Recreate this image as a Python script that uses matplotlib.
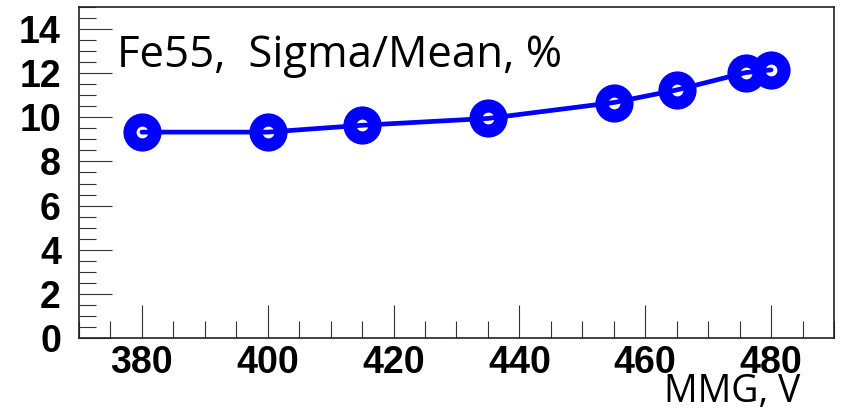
import matplotlib.pyplot as plt
from matplotlib.ticker import MultipleLocator

# MMG voltage (V) and energy resolution for Fe55 (Sigma/Mean, %)
mmg_v = [380, 400, 415, 435, 455, 465, 476, 480]
sigma_mean = [9.33, 9.33, 9.64, 9.95, 10.67, 11.24, 12.03, 12.15]

x_ticks = [380, 400, 420, 440, 460, 480]
y_ticks = [0, 2, 4, 6, 8, 10, 12, 14]

fig = plt.figure(figsize=(8.42, 4.11), dpi=100)
ax = fig.add_axes([0.0938, 0.1776, 0.8967, 0.8054])

blue = '#0000ff'

# ROOT-like markers: big blue disc with a small white hole
ax.plot(mmg_v, sigma_mean, linestyle='none', marker='o',
        markersize=27.5, markerfacecolor=blue, markeredgewidth=0, zorder=3)
ax.plot(mmg_v, sigma_mean, linestyle='none', marker='o',
        markersize=8.5, markerfacecolor='white', markeredgewidth=0, zorder=3.5)
ax.plot(mmg_v, sigma_mean, color=blue, linewidth=3.4, zorder=4,
        solid_capstyle='round')

ax.set_xlim(370, 490)
ax.set_ylim(0, 15)
ax.set_xticks(x_ticks)
ax.set_yticks(y_ticks)
ax.xaxis.set_minor_locator(MultipleLocator(5))
ax.yaxis.set_minor_locator(MultipleLocator(0.5))

ax.tick_params(which='both', direction='in', top=False, right=False,
               color='#333333', width=0.8)
ax.tick_params(which='major', length=23.8)
ax.tick_params(which='minor', length=12.2)
ax.tick_params(axis='y', pad=13)
ax.tick_params(axis='x', pad=5)

for lab in ax.get_xticklabels() + ax.get_yticklabels():
    lab.set_fontfamily('Liberation Sans')
    lab.set_fontweight('bold')
    lab.set_fontsize(27)

for sp in ax.spines.values():
    sp.set_linewidth(1.2)
    sp.set_color('#222222')

ax.text(0.051, 0.82, 'Fe55,  Sigma/Mean, %', transform=ax.transAxes,
        fontsize=31.5, family='Open Sans', ha='left', va='baseline')
fig.text(0.95, 0.022, 'MMG, V', fontsize=27, family='Open Sans',
         ha='right', va='baseline')

fig.savefig('out.png', dpi=100)
